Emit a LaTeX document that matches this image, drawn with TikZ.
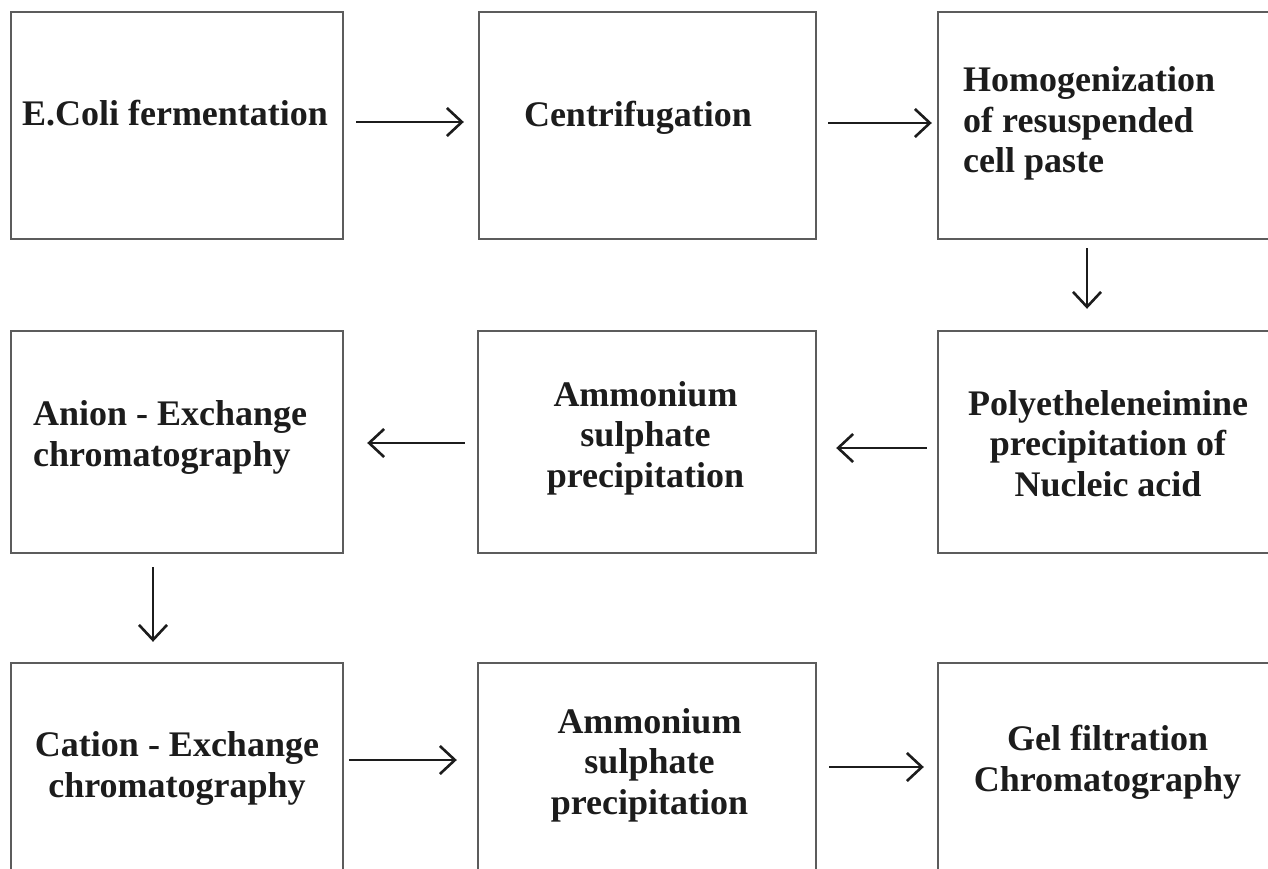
\documentclass[tikz,border=0pt]{standalone}
\usepackage{fontspec}
\setmainfont{Liberation Serif}
\usetikzlibrary{arrows.meta}
\definecolor{boxgray}{HTML}{5C5C5C}
\definecolor{ink}{HTML}{1C1C1C}
\begin{document}
\begin{tikzpicture}[x=1pt,y=-1pt,
  stepbox/.style={draw=boxgray, line width=2.4pt, rectangle, inner sep=0pt,
    minimum width=#1, minimum height=222pt},
  tallbox/.style={stepbox=#1, minimum height=227pt},
  label/.style={font=\bfseries\fontsize{36}{40.5}\selectfont, text=ink,
    inner sep=0pt, align=center, anchor=base},
  flow/.style={draw=ink, line width=2.6pt,
    -{Straight Barb[length=15pt, width=28pt, line width=2.6pt]}}]
  \useasboundingbox (0,0) rectangle (1268,869);
  \clip (0,0) rectangle (1268,869);

  % process boxes, three rows
  \node[tallbox=332pt] (b11) at (177,125.5) {};
  \node[tallbox=337pt] (b12) at (647.5,125.5) {};
  \node[tallbox=337pt] (b13) at (1106.5,125.5) {};
  \node[stepbox=332pt] (b21) at (177,442) {};
  \node[stepbox=338pt] (b22) at (647,442) {};
  \node[stepbox=337pt] (b23) at (1106.5,442) {};
  \node[stepbox=332pt] (b31) at (177,774) {};
  \node[stepbox=338pt] (b32) at (647,774) {};
  \node[stepbox=337pt] (b33) at (1106.5,774) {};

  % box texts (multi-line texts sit on the baseline of their last line)
  \node[label] (t11) at (175,126) {E.Coli fermentation};
  \node[label] (t12) at (638,127) {Centrifugation};
  \node[label, align=left, anchor=base west] (t13) at (963,173)
    {Homogenization\\of resuspended\\cell paste};
  \node[label, align=left, anchor=base west] (t21) at (33,466)
    {Anion - Exchange\\chromatography};
  \node[label] (t22) at (645.5,487) {Ammonium\\sulphate\\precipitation};
  \node[label] (t23) at (1108,496) {Polyetheleneimine\\precipitation of\\Nucleic acid};
  \node[label] (t31) at (177,797) {Cation - Exchange\\chromatography};
  \node[label] (t32) at (649.5,814) {Ammonium\\sulphate\\precipitation};
  \node[label] (t33) at (1107.5,791) {Gel filtration\\Chromatography};

  % connectors
  \draw[flow, shorten <=12pt, shorten >=14pt]
    ([yshift=3.5pt]b11.east) -- ([yshift=3.5pt]b12.west);
  \draw[flow, shorten <=11pt, shorten >=5pt]
    ([yshift=2.5pt]b12.east) -- ([yshift=2.5pt]b13.west);
  \draw[flow, shorten <=8pt, shorten >=21pt]
    ([xshift=-19.5pt]b13.south) -- ([xshift=-19.5pt]b23.north);
  \draw[flow, shorten <=10pt, shorten >=19pt]
    ([yshift=-6pt]b23.west) -- ([yshift=-6pt]b22.east);
  \draw[flow, shorten <=12pt, shorten >=23pt]
    ([yshift=-1pt]b22.west) -- ([yshift=-1pt]b21.east);
  \draw[flow, shorten <=13pt, shorten >=20pt]
    ([xshift=-24pt]b21.south) -- ([xshift=-24pt]b31.north);
  \draw[flow, shorten <=5pt, shorten >=20pt]
    ([yshift=14pt]b31.east) -- ([yshift=14pt]b32.west);
  \draw[flow, shorten <=12pt, shorten >=13pt]
    ([yshift=7pt]b32.east) -- ([yshift=7pt]b33.west);
\end{tikzpicture}
\end{document}
